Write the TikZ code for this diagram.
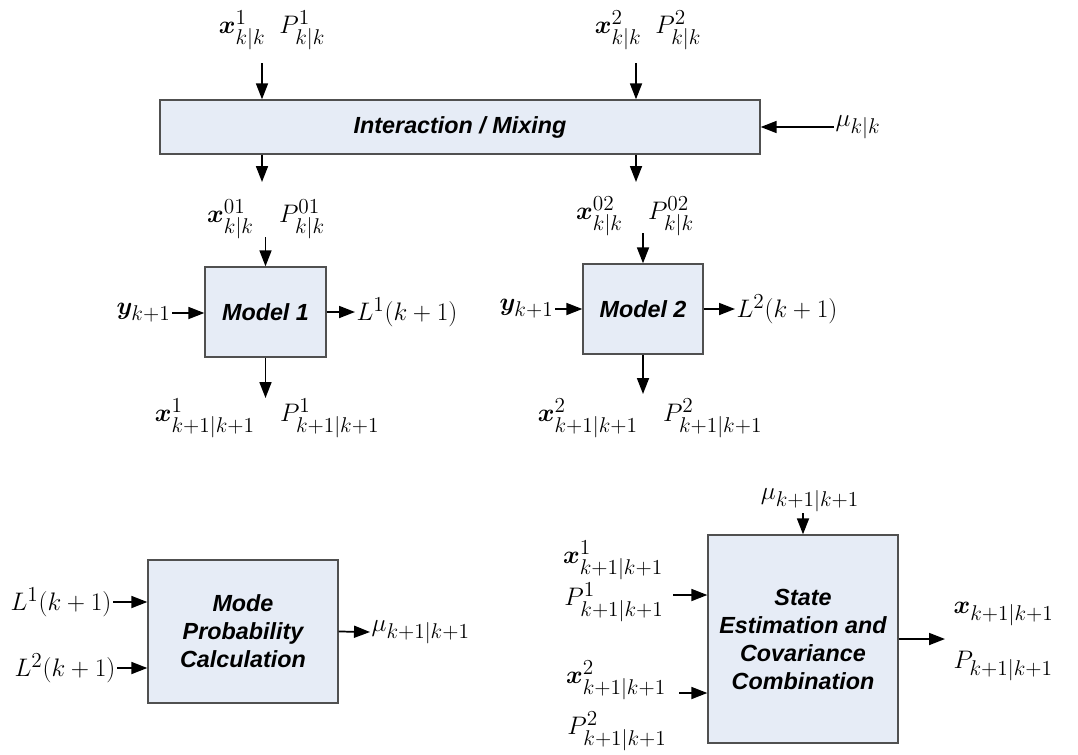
\RequirePackage{fix-cm}
\documentclass[tikz,border=0pt]{standalone}
\usepackage{amsmath}
\usepackage{bm}
\usepackage{fontspec}
\newfontfamily\boxfont{Liberation Sans}
\usetikzlibrary{arrows.meta}
\DeclareMathSizes{19}{19}{16}{12}
\definecolor{boxfill}{RGB}{230,236,246}
\definecolor{boxline}{RGB}{80,80,80}
\tikzset{
  blk/.style={draw=boxline, line width=1pt, fill=boxfill, align=center, inner sep=0pt,
    font=\boxfont\bfseries\itshape\fontsize{17.5}{21}\selectfont},
  lbl/.style={font=\fontsize{19}{23}\selectfont, inner sep=1pt},
  arr/.style={line width=1.3pt, -{Triangle[length=12pt,width=9pt]}}
}

\begin{document}
\begin{tikzpicture}[x=0.75pt,y=-0.75pt]
    \useasboundingbox (0,0) rectangle (1078,754);
    \node[blk, minimum width=450pt, minimum height=40.5pt] at (460,127) (mix) {Interaction / Mixing};
    \node[blk, minimum width=90.75pt, minimum height=67.5pt] at (265.5,312) (m1) {Model 1};
    \node[blk, minimum width=90pt, minimum height=67.5pt] at (643,309) (m2) {Model 2};
    \node[blk, minimum width=142.5pt, minimum height=107.25pt] at (243,631.5) (mpc) {Mode\\Probability\\Calculation};
    \node[blk, minimum width=142.5pt, minimum height=156pt] at (803,639) (sec) {State\\Estimation and\\Covariance\\Combination};

    \node[lbl] at (272,30) (in1) {$\bm{x}^1_{k|k}\;\;P^1_{k|k}$};
    \node[lbl] at (648,30) (in2) {$\bm{x}^2_{k|k}\;\;P^2_{k|k}$};
    \node[lbl, anchor=west] at (834,127) (mukk) {$\mu_{k|k}$};
    \coordinate (t1) at (262,63);
    \coordinate (t2) at (636,63);
    \draw[arr] (t1) -- (t1 |- mix.north);
    \draw[arr] (t2) -- (t2 |- mix.north);
    \draw[arr] (mukk.west) -- (mukk.west -| mix.east);

    \coordinate (b1) at (262,182);
    \coordinate (b2) at (636,182);
    \draw[arr] (b1 |- mix.south) -- (b1);
    \draw[arr] (b2 |- mix.south) -- (b2);

    \node[lbl] at (266,219) (x01) {$\bm{x}^{01}_{k|k}\quad P^{01}_{k|k}$};
    \node[lbl] at (635,216) (x02) {$\bm{x}^{02}_{k|k}\quad P^{02}_{k|k}$};
    \coordinate (c1) at (265.5,237);
    \coordinate (c2) at (643,233);
    \draw[arr] (c1) -- (m1.north);
    \draw[arr] (c2) -- (m2.north);

    \node[lbl, anchor=east] at (172,313) (y1) {$\bm{y}_{k+1}$};
    \node[lbl, anchor=west] at (355,312) (l1) {$L^1(k+1)$};
    \draw[arr] (y1.east) -- (y1.east -| m1.west);
    \draw[arr] (m1.east) -- (l1.west);
    \node[lbl, anchor=east] at (555,309) (y2) {$\bm{y}_{k+1}$};
    \node[lbl, anchor=west] at (735,309) (l2) {$L^2(k+1)$};
    \draw[arr] (y2.east) -- (y2.east -| m2.west);
    \draw[arr] (m2.east) -- (l2.west);

    \coordinate (d1) at (265.5,398);
    \coordinate (d2) at (643,394);
    \draw[arr] (m1.south) -- (d1);
    \draw[arr] (m2.south) -- (d2);
    \node[lbl] at (267,418) (o1) {$\bm{x}^1_{k+1|k+1}\quad P^1_{k+1|k+1}$};
    \node[lbl] at (650,418) (o2) {$\bm{x}^2_{k+1|k+1}\quad P^2_{k+1|k+1}$};

    \node[lbl, anchor=east] at (113,602) (pl1) {$L^1(k+1)$};
    \node[lbl, anchor=east] at (117,668) (pl2) {$L^2(k+1)$};
    \node[lbl, anchor=west] at (370,632) (mu) {$\mu_{k+1|k+1}$};
    \draw[arr] (pl1.east) -- (pl1.east -| mpc.west);
    \draw[arr] (pl2.east) -- (pl2.east -| mpc.west);
    \draw[arr] (mpc.east) -- (mu.west);

    \node[lbl] at (810,500) (mus) {$\mu_{k+1|k+1}$};
    \draw[arr] (mus.south -| sec.north) -- (sec.north);
    \node[lbl] at (613,560) (sx1) {$\bm{x}^1_{k+1|k+1}$};
    \node[lbl] at (614,602) (sp1) {$P^1_{k+1|k+1}$};
    \node[lbl] at (616,680) (sx2) {$\bm{x}^2_{k+1|k+1}$};
    \node[lbl] at (617,731) (sp2) {$P^2_{k+1|k+1}$};
    \coordinate (e1) at (673,595);
    \coordinate (e2) at (679,693);
    \draw[arr] (e1) -- (e1 -| sec.west);
    \draw[arr] (e2) -- (e2 -| sec.west);
    \coordinate (f) at (945,639);
    \draw[arr] (sec.east) -- (f);
    \node[lbl, anchor=west] at (952,614) (sx) {$\bm{x}_{k+1|k+1}$};
    \node[lbl, anchor=west] at (952,666) (sp) {$P_{k+1|k+1}$};
  \end{tikzpicture}
\end{document}
